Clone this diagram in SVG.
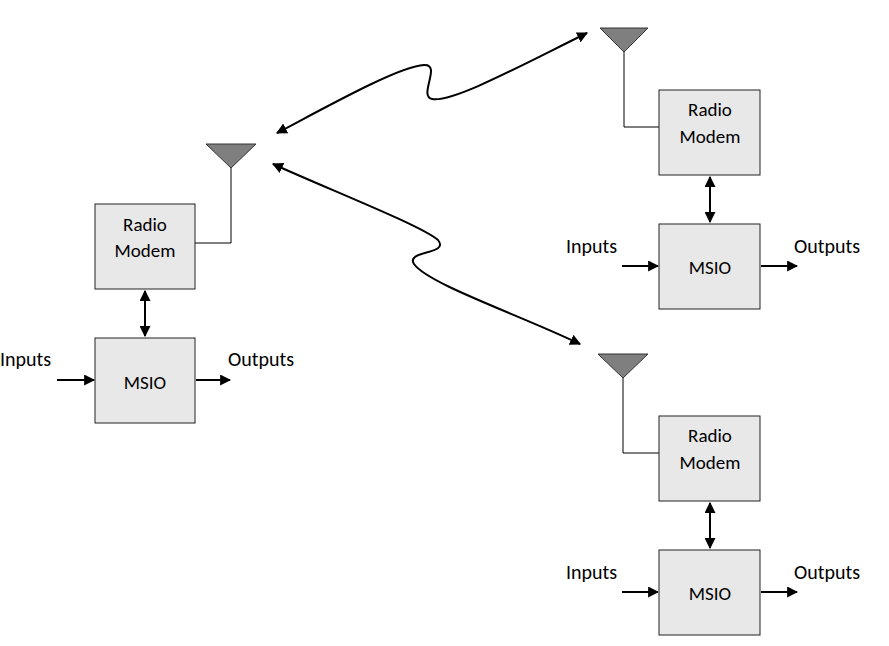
<svg xmlns="http://www.w3.org/2000/svg" width="889" height="646" viewBox="0 0 889 646">
<style>
.box{fill:#e8e8e8;stroke:#222;stroke-width:1}
.ant{fill:#7f7f7f;stroke:#333;stroke-width:1}
.wire{fill:none;stroke:#000;stroke-width:1}
.arr{fill:none;stroke:#000;stroke-width:2}
.zig{fill:none;stroke:#000;stroke-width:2}
text{font-family:Carlito,Lato,"Liberation Sans",sans-serif;font-size:19px;fill:#000}
.io{font-size:20px}
.c{text-anchor:middle}
</style>
<defs>
<marker id="ah" viewBox="0 0 10 10" refX="9" refY="5" markerWidth="5.5" markerHeight="5.5" orient="auto-start-reverse"><path d="M0,0 L10,5 L0,10 z" fill="#000"/></marker>
</defs>
<rect width="889" height="646" fill="#fff"/>
<g id="left">
<polygon class="ant" points="206,144 256,144 231,168"/>
<polyline class="wire" points="231,168 231,243 195,243"/>
<rect class="box" x="95" y="204" width="100" height="85"/>
<text class="c" x="145" y="231">Radio</text><text class="c" x="145" y="257">Modem</text>
<rect class="box" x="95" y="338" width="100" height="85"/>
<text class="c" x="145" y="389">MSIO</text>
<text class="io" x="0" y="366">Inputs</text><text class="io" x="228" y="366">Outputs</text>
</g>
<g id="rtop">
<polygon class="ant" points="600,28 648,28 624,52"/>
<polyline class="wire" points="624,52 624,127 659,127"/>
<rect class="box" x="659" y="90" width="101" height="85"/>
<text class="c" x="710" y="116">Radio</text><text class="c" x="710" y="143">Modem</text>
<rect class="box" x="659" y="224" width="101" height="85"/>
<text class="c" x="710" y="274">MSIO</text>
<text class="io" x="566" y="253">Inputs</text><text class="io" x="794" y="253">Outputs</text>
</g>
<g id="rbot">
<polygon class="ant" points="598,354 648,354 623,378"/>
<polyline class="wire" points="623,378 623,453 659,453"/>
<rect class="box" x="659" y="416" width="101" height="85"/>
<text class="c" x="710" y="442">Radio</text><text class="c" x="710" y="469">Modem</text>
<rect class="box" x="659" y="550" width="101" height="85"/>
<text class="c" x="710" y="600">MSIO</text>
<text class="io" x="566" y="579">Inputs</text><text class="io" x="794" y="579">Outputs</text>
</g>
<g id="connectors">
<line class="arr" x1="145" y1="291" x2="145" y2="336" marker-start="url(#ah)" marker-end="url(#ah)"/>
<line class="arr" x1="57" y1="380" x2="94" y2="380" marker-end="url(#ah)"/>
<line class="arr" x1="196" y1="380" x2="230" y2="380" marker-end="url(#ah)"/>
<line class="arr" x1="710" y1="177" x2="710" y2="222" marker-start="url(#ah)" marker-end="url(#ah)"/>
<line class="arr" x1="622" y1="266" x2="658" y2="266" marker-end="url(#ah)"/>
<line class="arr" x1="761" y1="266" x2="797" y2="266" marker-end="url(#ah)"/>
<line class="arr" x1="710" y1="503" x2="710" y2="548" marker-start="url(#ah)" marker-end="url(#ah)"/>
<line class="arr" x1="622" y1="592" x2="658" y2="592" marker-end="url(#ah)"/>
<line class="arr" x1="761" y1="592" x2="797" y2="592" marker-end="url(#ah)"/>
<path class="zig" d="M277,133 C330,105 400,66 424,65 C442,64 418,96 432,99 C452,103 520,66 587,33" marker-start="url(#ah)" marker-end="url(#ah)"/>
<path class="zig" d="M273,164 C330,190 420,225 438,240 C450,255 405,250 414,264 C428,284 520,315 580,344" marker-start="url(#ah)" marker-end="url(#ah)"/>
</g>
</svg>
